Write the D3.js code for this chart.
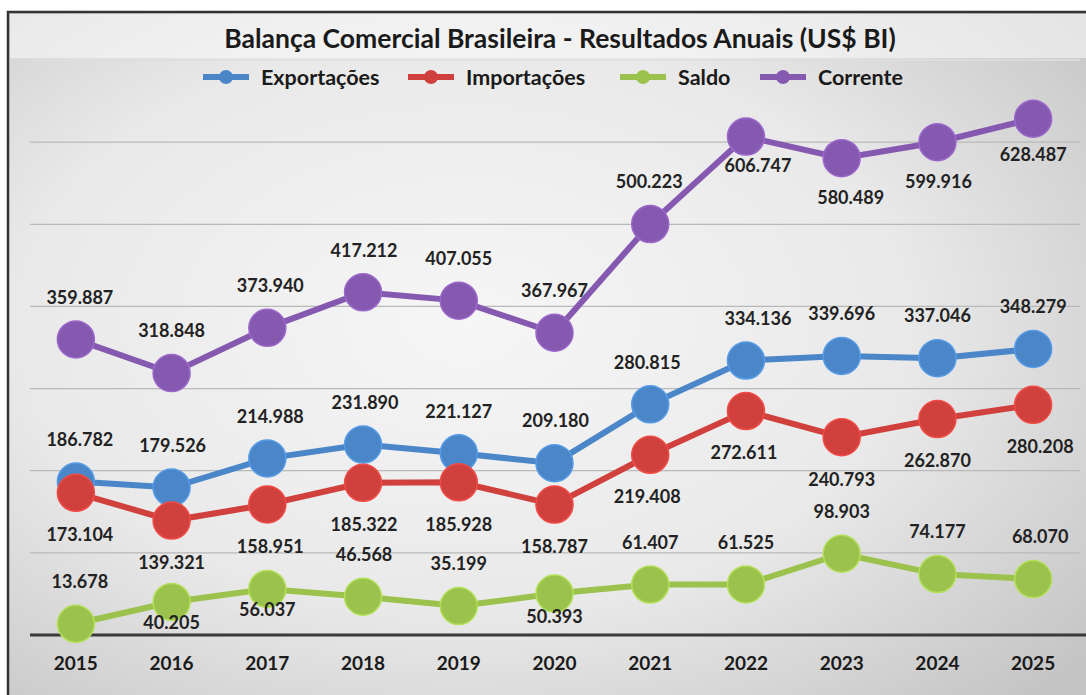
<!DOCTYPE html>
<html>
<head>
<meta charset="utf-8">
<script src="https://cdn.jsdelivr.net/npm/d3@7"></script>
<style>
  body { margin: 0; background: #fff; }
  svg { display: block; font-family: Lato, "Open Sans", sans-serif; }
</style>
</head>
<body>
<div id="chart"></div>
<script>
// data
const years = [2015, 2016, 2017, 2018, 2019, 2020, 2021, 2022, 2023, 2024, 2025];
const exportacoes = [186.782, 179.526, 214.988, 231.890, 221.127, 209.180, 280.815, 334.136, 339.696, 337.046, 348.279];
const importacoes = [173.104, 139.321, 158.951, 185.322, 185.928, 158.787, 219.408, 272.611, 240.793, 262.870, 280.208];
const saldo = [13.678, 40.205, 56.037, 46.568, 35.199, 50.393, 61.407, 61.525, 98.903, 74.177, 68.070];
const corrente = [359.887, 318.848, 373.940, 417.212, 407.055, 367.967, 500.223, 606.747, 580.489, 599.916, 628.487];
const yTicks = [0, 100, 200, 300, 400, 500, 600, 700];

// label placement: side 1 = above the marker, -1 = below, -0.5 = half below
const labelSide = {
  Exportações: [1, 1, 1, 1, 1, 1, 1, 1, 1, 1, 1],
  Importações: [-1, -1, -1, -1, -1, -1, -1, -1, -1, -1, -1],
  Saldo: [1, -0.5, -0.5, 1, 1, -0.55, 1, 1, 1, 1, 1],
  Corrente: [1, 1, 1, 1, 1, 1, 1, -0.7, -0.95, -0.95, -0.85]
};
const labelDx = {
  Exportações: [4, 1, 3, 2, 0, 1, -3, 12, 0, 0, 0],
  Importações: [4, 0, 3, 1, 0, 0, -3, -2, 0, 0, 7],
  Saldo: [4, 0, 0, 1, 0, 0, 0, 0, 0, 0, 7],
  Corrente: [4, 0, 3, 1, 0, 0, -1, 12, 9, 1, 0]
};

const series = [
  { name: "Exportações", values: exportacoes, color: "#4a86c8" },
  { name: "Importações", values: importacoes, color: "#d0413d" },
  { name: "Saldo", values: saldo, color: "#9bc24c" },
  { name: "Corrente", values: corrente, color: "#8659b0" }
];

const width = 1086, height = 695;
const fmt = d3.format(".3f");

const x = d3.scalePoint()
  .domain(years)
  .range([28, 1081])
  .padding(0.5);

const y = d3.scaleLinear()
  .domain([0, 700])
  .range([635, 60]);

const svg = d3.select("#chart")
  .append("svg")
  .attr("width", width)
  .attr("height", height);

const defs = svg.append("defs");
const grad = defs.append("radialGradient")
  .attr("id", "bg")
  .attr("cx", "42%").attr("cy", "45%").attr("r", "75%");
grad.append("stop").attr("offset", "0%").attr("stop-color", "#f6f6f6");
grad.append("stop").attr("offset", "55%").attr("stop-color", "#e9e9e9");
grad.append("stop").attr("offset", "100%").attr("stop-color", "#c4c4c4");

// frame
svg.append("rect")
  .attr("x", 8).attr("y", 12)
  .attr("width", width).attr("height", height)
  .attr("fill", "url(#bg)")
  .attr("stroke", "#333")
  .attr("stroke-width", 2.5);

// lighter band behind the title
svg.append("rect")
  .attr("x", 10).attr("y", 14)
  .attr("width", width).attr("height", 44)
  .attr("fill", "#f9f9f9")
  .attr("opacity", 0.6);

// gridlines
svg.append("g")
  .selectAll("line")
  .data(yTicks.slice(1))
  .join("line")
  .attr("x1", 30).attr("x2", 1080)
  .attr("y1", d => y(d)).attr("y2", d => y(d))
  .attr("stroke", d => d === 700 ? "#dedede" : "#b9b9b9")
  .attr("stroke-width", 1.3);

// baseline
svg.append("line")
  .attr("x1", 30).attr("x2", 1086)
  .attr("y1", y(0)).attr("y2", y(0))
  .attr("stroke", "#3a3a3a")
  .attr("stroke-width", 3);

// x labels
svg.append("g")
  .selectAll("text")
  .data(years)
  .join("text")
  .attr("x", d => x(d))
  .attr("y", 670)
  .attr("text-anchor", "middle")
  .attr("font-size", 19)
  .attr("font-weight", "bold")
  .attr("fill", "#1a1a1a")
  .text(d => d);

const line = d3.line()
  .x((d, i) => x(years[i]))
  .y(d => y(d));

const lines = svg.append("g");
series.forEach(s => {
  lines.append("path")
    .datum(s.values)
    .attr("fill", "none")
    .attr("stroke", s.color)
    .attr("stroke-width", 6)
    .attr("d", line);
  lines.selectAll("circle." + s.name)
    .data(s.values)
    .join("circle")
    .attr("cx", (d, i) => x(years[i]))
    .attr("cy", d => y(d))
    .attr("r", 18.5)
    .attr("fill", s.color)
    .attr("stroke", d3.color(s.color).brighter(0.4))
    .attr("stroke-width", 1.5);
});

// value labels
series.forEach(s => {
  svg.append("g")
    .selectAll("text")
    .data(s.values)
    .join("text")
    .attr("x", (d, i) => x(years[i]) + labelDx[s.name][i])
    .attr("y", (d, i) => y(d) - labelSide[s.name][i] * 42)
    .attr("dy", "0.35em")
    .attr("text-anchor", "middle")
    .attr("font-size", 18)
    .attr("font-weight", "bold")
    .attr("fill", "#222")
    .text(d => fmt(d));
});

// title
svg.append("text")
  .attr("x", 560).attr("y", 48)
  .attr("text-anchor", "middle")
  .attr("font-size", 26.5)
  .attr("font-weight", "bold")
  .attr("fill", "#1a1a1a")
  .text("Balança Comercial Brasileira - Resultados Anuais (US$ BI)");

// legend
const legend = svg.append("g").attr("transform", "translate(0,77)");
const legendX = [203, 408, 620, 760];
series.forEach((s, i) => {
  const g = legend.append("g").attr("transform", `translate(${legendX[i]},0)`);
  g.append("line")
    .attr("x1", 0).attr("x2", 46)
    .attr("stroke", s.color).attr("stroke-width", 6);
  g.append("circle")
    .attr("cx", 23).attr("r", 7)
    .attr("fill", s.color);
  g.append("text")
    .attr("x", 58).attr("dy", "0.35em")
    .attr("font-size", 21.5)
    .attr("font-weight", "bold")
    .attr("fill", "#1a1a1a")
    .text(s.name);
});
</script>
</body>
</html>
